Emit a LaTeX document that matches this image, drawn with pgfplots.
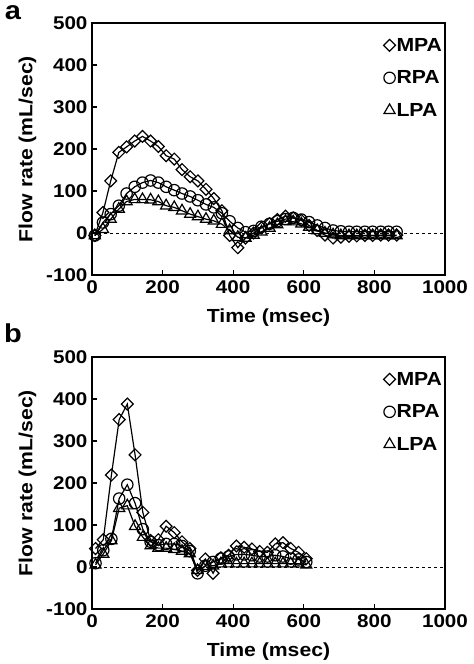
\documentclass[border=0pt]{standalone}
\usepackage{fontspec}
\setmainfont{Liberation Sans}[FakeStretch=1.12]
\usepackage{pgfplots}
\pgfplotsset{compat=1.18}
\pgfplotsset{
  panel/.style={
    scale only axis, width=353bp, height=252bp,
    xmin=0, xmax=1000, ymin=-100, ymax=500,
    xtick={0,200,...,1000}, ytick={-100,0,...,500},
    xtick pos=bottom, ytick pos=left, tick align=inside,
    major tick length=5bp,
    axis line style={line width=1.1pt},
    tick style={line width=1.1pt, black},
    /pgf/number format/assume math mode=true,
    /pgf/number format/1000 sep={},
    ticklabel style={font=\bfseries\fontsize{18.5}{18.5}\selectfont},
    xticklabel style={yshift=-2bp},
    yticklabel style={xshift=-1bp},
    label style={font=\bfseries\fontsize{19}{19}\selectfont},
    xlabel={Time (msec)}, ylabel={Flow rate (mL/sec)},
    xlabel style={yshift=-8bp},
    ylabel style={yshift=3bp},
    legend style={at={(0.995,0.945)}, anchor=north east, draw=none, fill=none,
      font=\bfseries\fontsize{19}{19}\selectfont, row sep=16bp,
      inner sep=0pt, nodes={inner sep=1pt}},
    legend cell align=left,
    legend image code/.code={\draw[#1] plot coordinates {(0.14cm,0cm)};},
  },
  mpa/.style={black, line width=1.2pt, mark=square, mark size=4.2bp,
    mark options={rotate=45, fill=white, draw=black, line width=1.2pt, solid}},
  rpa/.style={black, line width=1.2pt, mark=o, mark size=5.7bp,
    mark options={fill=white, draw=black, line width=1.2pt, solid}},
  lpa/.style={black, line width=1.2pt, mark=triangle, mark size=6.4bp,
    mark options={fill=white, draw=black, line width=1.2pt, solid}},
}
\begin{document}
\begin{tikzpicture}
\useasboundingbox (0,0) rectangle (474bp,-664bp);
\node[font=\bfseries\fontsize{26}{26}\selectfont] at (13bp,-13bp) {a};
\node[font=\bfseries\fontsize{26}{26}\selectfont] at (13bp,-333bp) {b};
\begin{axis}[panel, at={(92bp,-275bp)}, anchor=south west]
\addplot[black, dashed, line width=0.9pt, dash pattern=on 3bp off 3bp, forget plot] coordinates {(0,0) (1000,0)};
\addplot[mpa] coordinates {
(8,-6)(31,49)(53,124)(76,192)(98,205)(121,219)(143,230)(166,219)(188,206)(210,184)
(233,176)(255,151)(278,134)(300,124)(323,104)(345,82)(368,53)(390,-6)(413,-35)(435,-12)
(458,0)(480,12)(503,22)(525,32)(548,40)(570,36)(593,30)(615,18)(638,6)(660,-5)
(683,-12)(705,-10)(728,-8)(750,-7)(773,-6)(795,-6)(818,-5)(840,-5)(863,-5)};
\addplot[rpa] coordinates {
(8,-6)(31,25)(53,45)(76,65)(98,94)(121,110)(143,120)(166,125)(188,120)(210,110)
(233,102)(255,94)(278,87)(300,78)(323,68)(345,61)(368,47)(390,28)(413,12)(435,2)
(458,5)(480,15)(503,22)(525,28)(548,33)(570,36)(593,32)(615,26)(638,18)(660,12)
(683,6)(705,4)(728,3)(750,3)(773,3)(795,3)(818,3)(840,3)(863,3)};
\addplot[lpa] coordinates {
(8,-6)(31,9)(53,33)(76,57)(98,75)(121,80)(143,80)(166,79)(188,75)(210,65)
(233,61)(255,53)(278,45)(300,39)(323,33)(345,29)(368,21)(390,6)(413,-10)(435,-12)
(458,-5)(480,3)(503,12)(525,20)(548,28)(570,27)(593,22)(615,14)(638,6)(660,0)
(683,-4)(705,-6)(728,-6)(750,-6)(773,-6)(795,-6)(818,-6)(840,-6)(863,-6)};
\legend{MPA,RPA,LPA}
\end{axis}
\begin{axis}[panel, at={(92bp,-609bp)}, anchor=south west]
\addplot[black, dashed, line width=0.9pt, dash pattern=on 3bp off 3bp, forget plot] coordinates {(0,0) (1000,0)};
\addplot[mpa] coordinates {
(10,44)(32,65)(55,219)(77,351)(100,388)(122,267)(144,130)(166,63)(188,65)(210,97)
(233,82)(255,60)(277,44)(299,-8)(321,19)(343,-15)(365,22)(387,28)(409,50)(431,47)
(453,43)(475,37)(497,35)(519,55)(541,58)(563,44)(585,35)(607,20)};
\addplot[rpa] coordinates {
(10,9)(32,40)(55,67)(77,163)(100,196)(122,152)(144,90)(166,60)(188,52)(210,55)
(233,55)(255,50)(277,38)(299,-15)(321,3)(343,12)(365,20)(387,25)(409,30)(431,30)
(453,28)(475,25)(497,25)(519,28)(541,25)(563,20)(585,18)(607,12)};
\addplot[lpa] coordinates {
(10,5)(32,31)(55,63)(77,140)(100,146)(122,97)(144,71)(166,51)(188,45)(210,45)
(233,42)(255,38)(277,32)(299,-8)(321,2)(343,3)(365,8)(387,8)(409,8)(431,8)
(453,8)(475,8)(497,8)(519,8)(541,8)(563,8)(585,8)(607,5)};
\legend{MPA,RPA,LPA}
\end{axis}
\end{tikzpicture}
\end{document}
